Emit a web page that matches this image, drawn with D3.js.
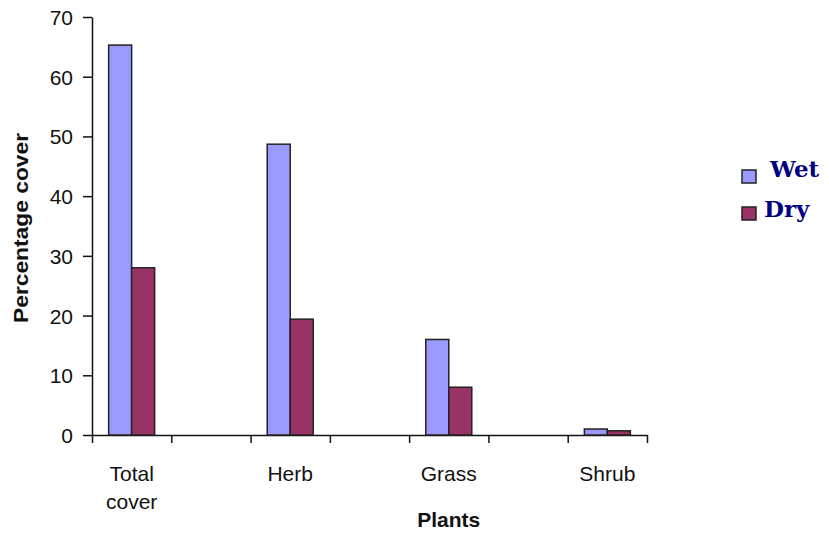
<!DOCTYPE html>
<html>
<head>
<meta charset="utf-8">
<script src="https://cdn.jsdelivr.net/npm/d3@7"></script>
<style>
  body { margin: 0; background: #fff; }
  svg text { font-family: "Liberation Sans", Arial, sans-serif; fill: #111; }
  .axis path, .axis line { stroke: #111; stroke-width: 1.5; }
</style>
</head>
<body>
<svg id="chart"></svg>
<script>
// chart data
const categories = ["Total cover", "Herb", "Grass", "Shrub"];
const series = ["Wet", "Dry"];
const wetValues = [65.3, 48.7, 16.0, 1.0];
const dryValues = [28.0, 19.4, 8.0, 0.7];
const yTicks = [0, 10, 20, 30, 40, 50, 60, 70];
const colors = ["#9999ff", "#993366"];

const width = 829, height = 534;
const margin = {top: 17, left: 92, right: 182, bottom: 99};
const plotW = width - margin.left - margin.right;
const plotH = height - margin.top - margin.bottom;

const svg = d3.select("#chart")
    .attr("width", width)
    .attr("height", height);

const chart = svg.append("g")
    .attr("transform", `translate(${margin.left},${margin.top})`);

// 7 slots along x: categories sit in every other slot
const nSlots = categories.length * 2 - 1;
const xScale = d3.scaleLinear()
    .domain([0, nSlots])
    .range([0, plotW]);
const slotW = xScale(1) - xScale(0);

const xInner = d3.scaleBand()
    .domain(series)
    .range([0, 46]);

const yScale = d3.scaleLinear()
    .domain([0, 70])
    .range([plotH, 0]);

// y axis
const yAxis = d3.axisLeft(yScale)
    .tickValues(yTicks)
    .tickSize(9)
    .tickSizeOuter(0)
    .tickPadding(10);
const yAxisG = chart.append("g")
    .attr("class", "axis")
    .call(yAxis);
yAxisG.selectAll("text")
    .style("font-size", "21px")
    .attr("dy", "0.36em");

// x axis: ticks on slot boundaries, no labels
const xAxis = d3.axisBottom(xScale)
    .tickValues(d3.range(0, nSlots + 1))
    .tickSize(8)
    .tickSizeOuter(0)
    .tickFormat("");
chart.append("g")
    .attr("class", "axis")
    .attr("transform", `translate(0,${plotH})`)
    .call(xAxis);

// bars
const rows = categories.map((c, i) => ({cat: c, slot: i * 2, values: [wetValues[i], dryValues[i]]}));
const groups = chart.selectAll(".grp")
    .data(rows)
  .enter().append("g")
    .attr("class", "grp")
    .attr("transform", d => `translate(${xScale(d.slot) + (slotW - 46) / 2},0)`);

groups.selectAll("rect")
    .data(d => d.values.map((v, j) => ({key: series[j], value: v, idx: j})))
  .enter().append("rect")
    .attr("x", d => xInner(d.key))
    .attr("width", xInner.bandwidth())
    .attr("y", d => yScale(d.value))
    .attr("height", d => plotH - yScale(d.value))
    .attr("fill", d => colors[d.idx])
    .attr("stroke", "#222")
    .attr("stroke-width", 1.5);

// category labels (wrapped on space)
const labels = chart.selectAll(".cat")
    .data(rows)
  .enter().append("text")
    .attr("class", "cat")
    .attr("text-anchor", "middle")
    .attr("transform", d => `translate(${xScale(d.slot) + slotW / 2},${plotH + 46})`)
    .style("font-size", "21px");
labels.selectAll("tspan")
    .data(d => d.cat.split(" "))
  .enter().append("tspan")
    .attr("x", 0)
    .attr("dy", (d, i) => i === 0 ? 0 : 28)
    .text(d => d);

// axis titles
chart.append("text")
    .attr("text-anchor", "middle")
    .attr("x", xScale(4.5))
    .attr("y", plotH + 92)
    .style("font-size", "21px")
    .style("font-weight", "bold")
    .text("Plants");

chart.append("text")
    .attr("text-anchor", "middle")
    .attr("transform", `translate(${-64},${211}) rotate(-90)`)
    .style("font-size", "20px")
    .style("font-weight", "bold")
    .attr("textLength", 190)
    .attr("lengthAdjust", "spacingAndGlyphs")
    .text("Percentage cover");

// legend
const legend = svg.append("g")
    .attr("transform", "translate(742,170)");
const items = legend.selectAll("g")
    .data(series)
  .enter().append("g")
    .attr("transform", (d, i) => `translate(0,${i * 37})`);
items.append("rect")
    .attr("width", 14)
    .attr("height", 13)
    .attr("fill", (d, i) => colors[i])
    .attr("stroke", "#222")
    .attr("stroke-width", 1.5);
items.append("text")
    .attr("x", (d, i) => i === 0 ? 28 : 22)
    .attr("y", (d, i) => i === 0 ? 7 : 10)
    .style("font-family", "'DejaVu Serif', serif")
    .style("font-weight", "bold")
    .style("font-size", "23px")
    .style("fill", "#000080")
    .text(d => d);
</script>
</body>
</html>
